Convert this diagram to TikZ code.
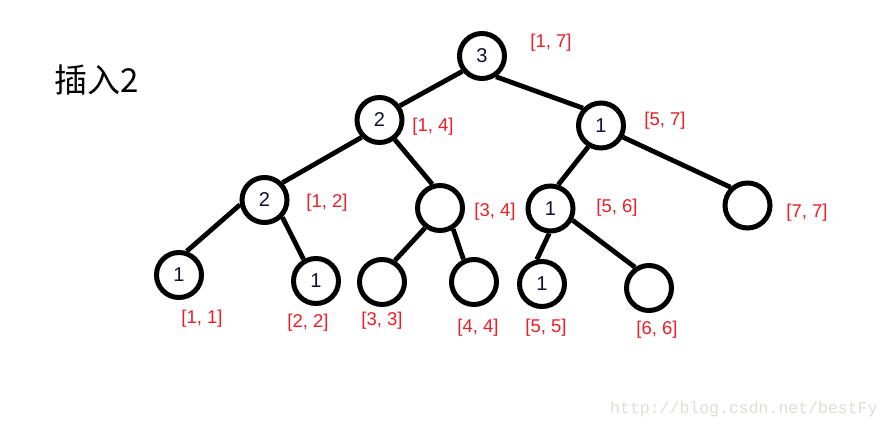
\documentclass[tikz,border=0pt]{standalone}
\usepackage{fontspec}
\setmainfont{Liberation Sans}
\newfontfamily\cjkfont{Noto Sans CJK SC}
\newfontfamily\wmfont{Liberation Mono}
\definecolor{rangered}{RGB}{236,30,40}
\definecolor{digitcol}{RGB}{15,15,50}
\definecolor{wmgray}{RGB}{224,221,216}
\begin{document}
\begin{tikzpicture}[x=1pt,y=-1pt,
  tn/.style={circle,draw,line width=5pt,minimum size=45pt,inner sep=0pt,
    font=\fontsize{20}{20}\selectfont,text=digitcol},
  conn/.style={line width=4.8pt},
  rng/.style={text=rangered,font=\fontsize{18.5}{18.5}\selectfont,inner sep=0pt}]
\useasboundingbox[fill=white] (0,0) rectangle (893,428);
% title
\node[anchor=base west,inner sep=0pt,font=\cjkfont\fontsize{33}{33}\selectfont] (title) at (54,92) {插入2};
% tree nodes
\node[tn] (root) at (482,56) {3};
\node[tn] (n14) at (379.5,120) {2};
\node[tn] (n57) at (601,125.5) {1};
\node[tn] (n12) at (264.5,200) {2};
\node[tn] (n34) at (440,208) {};
\node[tn] (n56) at (550.5,208.5) {1};
\node[tn] (n77) at (747.5,205.5) {};
\node[tn] (n11) at (179,275) {1};
\node[tn] (n22) at (316,281) {1};
\node[tn] (n33) at (382,282) {};
\node[tn] (n44) at (474,282) {};
\node[tn] (n55) at (542,284) {1};
\node[tn] (n66) at (649,288) {};
% connectors
\draw[conn] (root.218) -- (n14.35);
\draw[conn] (root.-56) -- (n57.136);
\draw[conn] (n14.224) -- (n12.44);
\draw[conn] (n14.-52) -- (n34.108);
\draw[conn] (n57.-121) -- (n56.72);
\draw[conn] (n57.-28) -- (n77.133);
\draw[conn] (n12.191) -- (n11.72);
\draw[conn] (n12.-44) -- (n22.120);
\draw[conn] (n34.233) -- (n33.59);
\draw[conn] (n34.-58) -- (n44.115);
\draw[conn] (n56.-93) -- (n55.102);
\draw[conn] (n56.-28) -- (n66.124);
% range labels
\node[rng] (l17) at (551,43) {[1, 7]};
\node[rng] (l14) at (433,127) {[1, 4]};
\node[rng] (l57) at (665,121) {[5, 7]};
\node[rng] (l12) at (327,203) {[1, 2]};
\node[rng] (l34) at (495,212) {[3, 4]};
\node[rng] (l56) at (617,208) {[5, 6]};
\node[rng] (l77) at (807,213) {[7, 7]};
\node[rng] (l11) at (202,319) {[1, 1]};
\node[rng] (l22) at (308,323) {[2, 2]};
\node[rng] (l33) at (382,321) {[3, 3]};
\node[rng] (l44) at (478,328) {[4, 4]};
\node[rng] (l55) at (546,328) {[5, 5]};
\node[rng] (l66) at (657,330) {[6, 6]};
% watermark
\node[anchor=base west,inner sep=0pt,text=wmgray,font=\wmfont\fontsize{16.5}{16.5}\selectfont] (wm) at (610,413) {http://blog.csdn.net/bestFy};
\end{tikzpicture}
\end{document}
